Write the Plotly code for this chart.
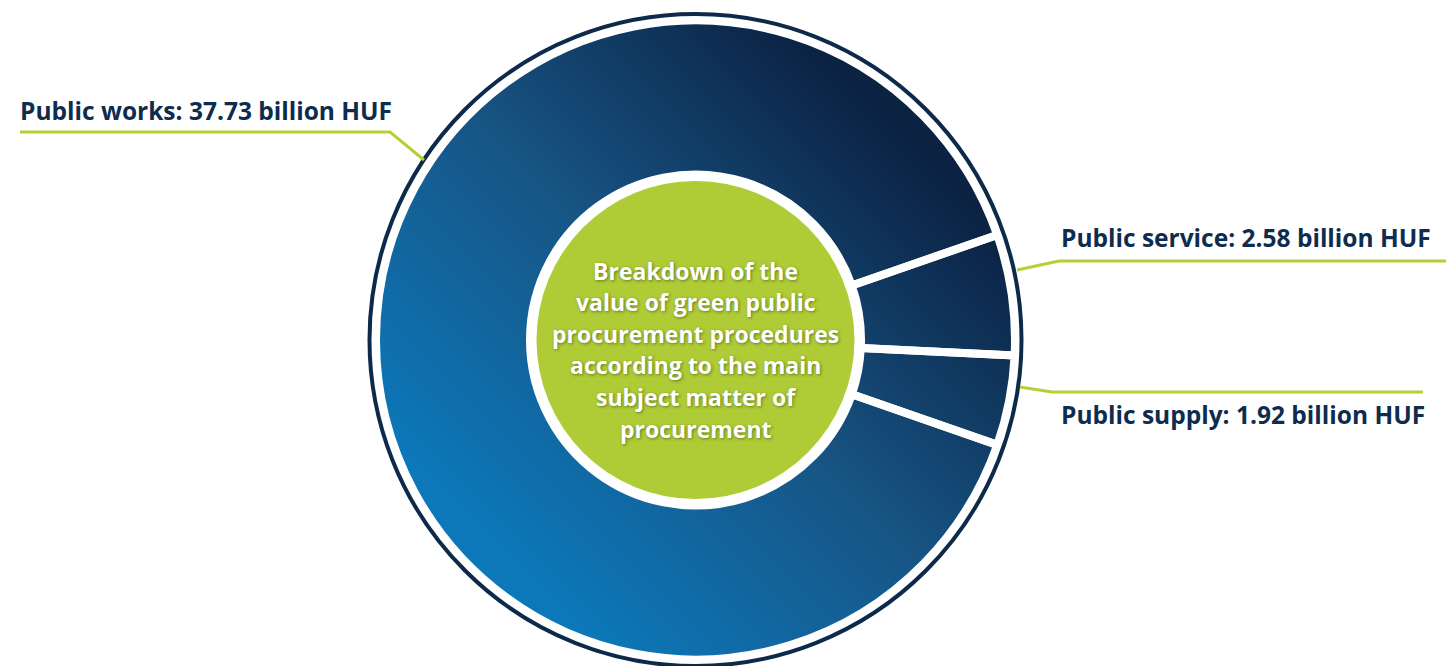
import base64
import plotly.graph_objects as go

# Value of green public procurement by main subject matter (billion HUF)
categories = ["Public service", "Public supply", "Public works"]
values = [2.58, 1.92, 37.73]
unit = "billion HUF"
center_lines = [
    "Breakdown of the",
    "value of green public",
    "procurement procedures",
    "according to the main",
    "subject matter of",
    "procurement",
]

W, H = 1452, 666
NAVY = "#0e2c4e"
GREEN = "#afcb36"
LEADER = "#b2d136"
FONT = "Open Sans"

# donut geometry in pixels
CX, CY = 695.5, 340.0
R_OUT = 319.5
HOLE = 0.518
R_RING = 326.0
R_GREEN = 159.0


def px(x):
    return x / W


def py(y):
    return (H - y) / H


# linear gradient ring painted under the (transparent) pie slices
size = 2 * R_OUT
r_in = R_OUT * HOLE
r_mid = (R_OUT + r_in) / 2
svg = f"""<svg xmlns='http://www.w3.org/2000/svg' width='{size}' height='{size}' viewBox='0 0 {size} {size}' preserveAspectRatio='none'>
<defs><linearGradient id='g' x1='0.1' y1='0.95' x2='0.95' y2='0.1'>
<stop offset='0' stop-color='#0c78ba'/>
<stop offset='0.5' stop-color='#175585'/>
<stop offset='1' stop-color='#0b2243'/>
</linearGradient></defs>
<circle cx='{R_OUT}' cy='{R_OUT}' r='{r_mid}' fill='none' stroke='url(#g)' stroke-width='{R_OUT - r_in}'/>
</svg>"""
src = "data:image/svg+xml;base64," + base64.b64encode(svg.encode()).decode()

fig = go.Figure()

fig.add_trace(go.Pie(
    labels=categories,
    values=values,
    sort=False,
    direction="clockwise",
    rotation=70.8,
    hole=HOLE,
    textinfo="none",
    showlegend=False,
    marker=dict(colors=["rgba(0,0,0,0)"] * len(values),
                line=dict(color="white", width=8)),
    domain=dict(x=[px(CX - R_OUT), px(CX + R_OUT)],
                y=[py(CY + R_OUT), py(CY - R_OUT)]),
))

images = [dict(source=src, xref="paper", yref="paper",
               x=px(CX - R_OUT), y=py(CY - R_OUT),
               sizex=size / W, sizey=size / H,
               xanchor="left", yanchor="top", sizing="stretch", layer="below")]

shapes = [
    # thin outer ring
    dict(type="circle", xref="paper", yref="paper",
         x0=px(CX - R_RING), x1=px(CX + R_RING),
         y0=py(CY + R_RING), y1=py(CY - R_RING),
         line=dict(color="#0d2a4a", width=4), fillcolor="rgba(0,0,0,0)",
         layer="above"),
    # green centre disc
    dict(type="circle", xref="paper", yref="paper",
         x0=px(CX - R_GREEN), x1=px(CX + R_GREEN),
         y0=py(CY + R_GREEN), y1=py(CY - R_GREEN),
         line=dict(width=0), fillcolor=GREEN, layer="above"),
]

# leader lines (pixel waypoints) for each label
leaders = {
    "Public works": [(20, 132), (390, 132), (424, 160)],
    "Public service": [(1017, 270), (1059, 261), (1446, 261)],
    "Public supply": [(1020, 387), (1052, 392), (1423, 392)],
}
for pts in leaders.values():
    path = "M " + " L ".join(f"{px(x)},{py(y)}" for x, y in pts)
    shapes.append(dict(type="path", xref="paper", yref="paper", path=path,
                       line=dict(color=LEADER, width=3), layer="above"))

label_pos = {
    "Public works": (18, 110),
    "Public service": (1059, 237),
    "Public supply": (1059, 414),
}
annotations = []
for name, val in zip(categories, values):
    x, y = label_pos[name]
    annotations.append(dict(
        text=f"{name}: {val:.2f} {unit}", x=px(x), y=py(y),
        xref="paper", yref="paper", xanchor="left", yanchor="middle",
        showarrow=False,
        font=dict(family=FONT, size=24.5, color=NAVY, weight="bold"),
    ))

line_gap = 31.6
top = 270.5
for i, line in enumerate(center_lines):
    annotations.append(dict(
        text=line, x=px(CX), y=py(top + i * line_gap),
        xref="paper", yref="paper", xanchor="center", yanchor="middle",
        showarrow=False,
        font=dict(family=FONT, size=23, color="white", weight="bold",
                  shadow="1px 1px 3px rgba(40,60,10,0.55)"),
    ))

fig.update_layout(
    width=W, height=H,
    margin=dict(l=0, r=0, t=0, b=0),
    paper_bgcolor="white", plot_bgcolor="white",
    images=images, shapes=shapes, annotations=annotations,
)

fig.write_html("out.html", config={"displayModeBar": False})
